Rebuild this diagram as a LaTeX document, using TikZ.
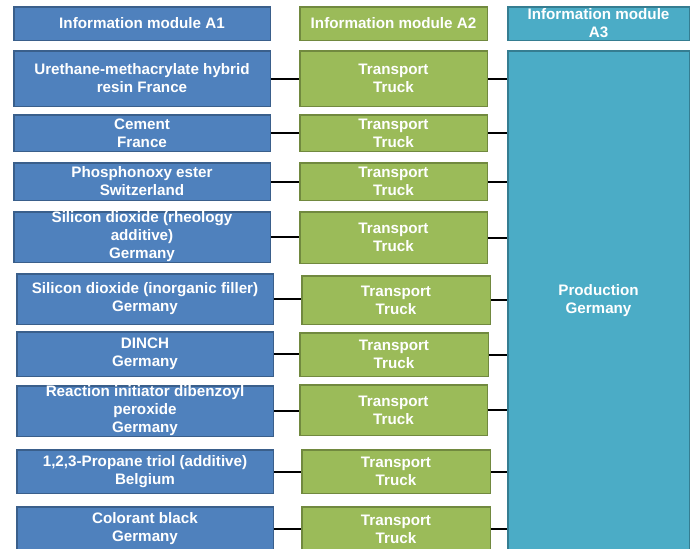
\documentclass[tikz,border=0pt]{standalone}
\usepackage{fontspec}
\setmainfont{Liberation Sans}
\definecolor{bfill}{HTML}{4F81BD}
\definecolor{bline}{HTML}{3A5F8B}
\definecolor{gfill}{HTML}{9BBB59}
\definecolor{gline}{HTML}{71893F}
\definecolor{cfill}{HTML}{4BACC6}
\definecolor{cline}{HTML}{357D91}
\tikzset{
  base/.style={rectangle, inner sep=0pt, align=center, text=white,
    font=\fontsize{15.2}{18}\selectfont\bfseries, line width=1.5pt},
  bluebox/.style={base, fill=bfill, draw=bline},
  greenbox/.style={base, fill=gfill, draw=gline},
  cyanbox/.style={base, fill=cfill, draw=cline},
  link/.style={line width=2pt, black}
}
\newcommand{\mybox}[7]{\node[#2, minimum width={#5-#3-1.5}, minimum height={#6-#4-1.5}] (#1) at ({(#3+#5)/2},{(#4+#6)/2}) {#7};}
\begin{document}
\begin{tikzpicture}[x=1pt,y=-1pt]
\useasboundingbox (0,0) rectangle (694,549);
\clip (0,0) rectangle (694,549);
% headers
\mybox{hA}{bluebox}{13}{6}{271}{41}{Information module A1}
\mybox{hB}{greenbox}{299}{6}{488}{41}{Information module A2}
\mybox{hC}{cyanbox}{507}{6}{690}{41}{Information module\\A3}
% production
\mybox{prod}{cyanbox}{507}{50}{690}{552}{Production\\Germany}
% rows
\mybox{b1}{bluebox}{13}{50}{271}{107}{Urethane-methacrylate hybrid\\resin France}
\mybox{g1}{greenbox}{299}{50}{488}{107}{Transport\\Truck}
\mybox{b2}{bluebox}{13}{114}{271}{152}{Cement\\France}
\mybox{g2}{greenbox}{299}{114}{488}{152}{Transport\\Truck}
\mybox{b3}{bluebox}{13}{162}{271}{201}{Phosphonoxy ester\\Switzerland}
\mybox{g3}{greenbox}{299}{162}{488}{201}{Transport\\Truck}
\mybox{b4}{bluebox}{13}{211}{271}{263}{Silicon dioxide (rheology\\additive)\\Germany}
\mybox{g4}{greenbox}{299}{211}{488}{264}{Transport\\Truck}
\mybox{b5}{bluebox}{16}{273}{274}{325}{Silicon dioxide (inorganic filler)\\Germany}
\mybox{g5}{greenbox}{301}{275}{491}{325}{Transport\\Truck}
\mybox{b6}{bluebox}{16}{331}{274}{377}{DINCH\\Germany}
\mybox{g6}{greenbox}{299}{332}{489}{377}{Transport\\Truck}
\mybox{b7}{bluebox}{16}{385}{274}{437}{Reaction initiator dibenzoyl\\peroxide\\Germany}
\mybox{g7}{greenbox}{299}{384}{488}{436}{Transport\\Truck}
\mybox{b8}{bluebox}{16}{449}{274}{494}{1,2,3-Propane triol (additive)\\Belgium}
\mybox{g8}{greenbox}{301}{449}{491}{494}{Transport\\Truck}
\mybox{b9}{bluebox}{16}{506}{274}{552}{Colorant black\\Germany}
\mybox{g9}{greenbox}{301}{506}{491}{552}{Transport\\Truck}
% connectors
\foreach \i in {1,...,9}{
  \draw[link] (b\i.east) -- (b\i.east -| g\i.west);
  \draw[link] (g\i.east) -- (g\i.east -| prod.west);
}
\end{tikzpicture}
\end{document}
